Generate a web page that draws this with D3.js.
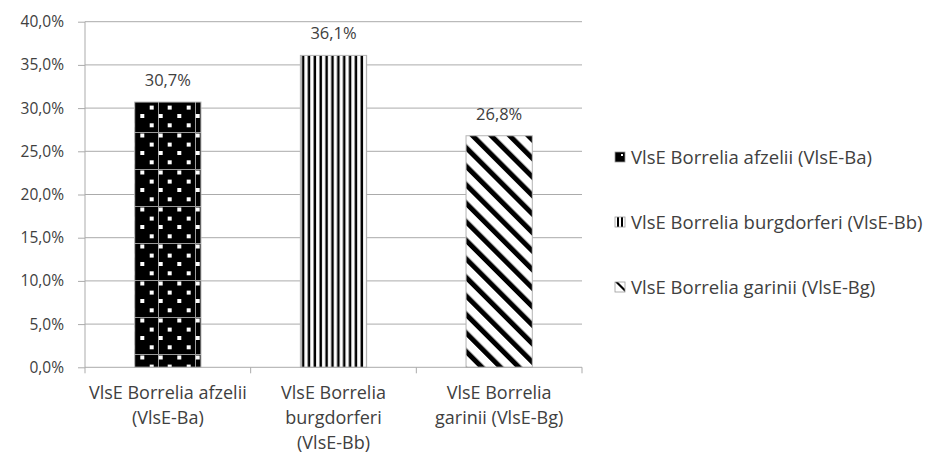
<!DOCTYPE html>
<html>
<head>
<meta charset="utf-8">
<script src="https://cdn.jsdelivr.net/npm/d3@7"></script>
<style>
  body { margin: 0; background: #fff; }
  svg { display: block; font-family: "Open Sans", sans-serif; }
</style>
</head>
<body>
<svg width="928" height="457"></svg>
<script>
// data
var categories = ["VlsE Borrelia afzelii (VlsE-Ba)", "VlsE Borrelia burgdorferi (VlsE-Bb)", "VlsE Borrelia garinii (VlsE-Bg)"];
var values = [0.307, 0.361, 0.268];
var catLines = [["VlsE Borrelia afzelii", "(VlsE-Ba)"], ["VlsE Borrelia", "burgdorferi", "(VlsE-Bb)"], ["VlsE Borrelia", "garinii (VlsE-Bg)"]];
var yTicks = [0, 0.05, 0.1, 0.15, 0.2, 0.25, 0.3, 0.35, 0.4];
var patternIds = ["dots", "vlines", "diag"];

var textCol = "#404040";
var gridCol = "#ababab";

var locale = d3.formatLocale({decimal: ",", thousands: ".", grouping: [3], currency: ["", "€"]});
var pct = locale.format(".1%");

var svg = d3.select("svg");
var plotLeft = 85, plotRight = 582, plotTop = 21.7, plotBottom = 367.3;

var y = d3.scaleLinear().domain([0, 0.4]).range([plotBottom, plotTop]);
var x = d3.scaleBand().domain(categories).range([plotLeft, plotRight]).paddingInner(0.6).paddingOuter(0.3);
var step = x.step();

// patterns
var defs = svg.append("defs");

var pd = defs.append("pattern").attr("id", "dots").attr("patternUnits", "userSpaceOnUse")
    .attr("x", 10).attr("y", 21).attr("width", 37).attr("height", 37);
pd.append("rect").attr("width", 37).attr("height", 37).attr("fill", "#000");
pd.append("rect").attr("width", 37).attr("height", 1).attr("fill", "#9a9a9a");
pd.append("rect").attr("width", 1).attr("height", 37).attr("fill", "#9a9a9a");
var dotPos = [[2.7, 3.5], [21.3, 3.5], [11.7, 12.6], [30.7, 12.6], [2.7, 21], [21.3, 21], [11.7, 30.3], [30.7, 30.3]];
pd.selectAll("rect.d").data(dotPos).enter().append("rect").attr("class", "d")
    .attr("x", function(d){ return d[0]-2; }).attr("y", function(d){ return d[1]-2; })
    .attr("width", 4).attr("height", 4).attr("fill", "#fff");

var pv = defs.append("pattern").attr("id", "vlines").attr("patternUnits", "userSpaceOnUse")
    .attr("x", 1).attr("width", 5.87).attr("height", 10);
pv.append("rect").attr("width", 5.87).attr("height", 10).attr("fill", "#fff");
pv.append("rect").attr("x", 1.5).attr("width", 2.5).attr("height", 10).attr("fill", "#000");

var pg = defs.append("pattern").attr("id", "diag").attr("patternUnits", "userSpaceOnUse")
    .attr("width", 13.1).attr("height", 13.1).attr("patternTransform", "rotate(-45)");
pg.append("rect").attr("width", 13.1).attr("height", 13.1).attr("fill", "#fff");
pg.append("rect").attr("x", 0).attr("width", 5).attr("height", 13.1).attr("fill", "#000");

// legend patterns (small)
var ld = defs.append("pattern").attr("id", "ldots").attr("patternUnits", "objectBoundingBox")
    .attr("width", 1).attr("height", 1);
ld.append("rect").attr("width", 10).attr("height", 10).attr("fill", "#000");
ld.append("rect").attr("x", 6).attr("y", 2).attr("width", 2).attr("height", 2).attr("fill", "#fff");
var lv = defs.append("pattern").attr("id", "lvlines").attr("patternUnits", "objectBoundingBox")
    .attr("width", 1).attr("height", 1);
lv.append("rect").attr("width", 10).attr("height", 10).attr("fill", "#fff");
lv.append("rect").attr("x", 2).attr("width", 2).attr("height", 10).attr("fill", "#000");
lv.append("rect").attr("x", 6).attr("width", 2).attr("height", 10).attr("fill", "#000");
var lg = defs.append("pattern").attr("id", "ldiag").attr("patternUnits", "objectBoundingBox")
    .attr("width", 1).attr("height", 1);
lg.append("rect").attr("width", 10).attr("height", 10).attr("fill", "#fff");
lg.append("path").attr("d", "M0,0 L3,0 L10,7 L10,10 Z").attr("fill", "#000");
var legendIds = ["ldots", "lvlines", "ldiag"];

// gridlines
svg.append("g").selectAll("line").data(yTicks.slice(1)).enter().append("line")
    .attr("x1", plotLeft).attr("x2", plotRight)
    .attr("y1", function(d){ return y(d); }).attr("y2", function(d){ return y(d); })
    .attr("stroke", gridCol).attr("stroke-width", 1);

// bars
svg.append("g").selectAll("rect").data(values).enter().append("rect")
    .attr("x", function(d, i){ return x(categories[i]); })
    .attr("y", function(d){ return y(d); })
    .attr("width", x.bandwidth())
    .attr("height", function(d){ return y(0) - y(d); })
    .attr("fill", function(d, i){ return "url(#" + patternIds[i] + ")"; })
    .attr("stroke", "#b5b5b5").attr("stroke-width", 1);

// value labels
svg.append("g").selectAll("text").data(values).enter().append("text")
    .attr("x", function(d, i){ return x(categories[i]) + x.bandwidth()/2; })
    .attr("y", function(d){ return y(d) - 16; })
    .attr("text-anchor", "middle").attr("font-size", 16.5).attr("fill", textCol)
    .text(function(d){ return pct(d); });

// y axis
var yAxis = d3.axisLeft(y).tickValues(yTicks).tickSize(7).tickPadding(14).tickFormat(pct);
var gy = svg.append("g").attr("transform", "translate(" + plotLeft + ",0)").call(yAxis);
gy.select(".domain").attr("stroke", gridCol).attr("d", "M0," + plotTop + "V" + plotBottom);
gy.selectAll(".tick line").attr("stroke", gridCol);
gy.selectAll(".tick text").attr("font-size", 15.5).attr("fill", textCol).attr("font-family", "Open Sans");

// x axis
var gx = svg.append("g").attr("transform", "translate(0," + plotBottom + ")");
gx.append("line").attr("x1", plotLeft).attr("x2", plotRight).attr("stroke", gridCol);
gx.selectAll("line.t").data(d3.range(categories.length + 1)).enter().append("line").attr("class", "t")
    .attr("x1", function(i){ return plotLeft + i*step; }).attr("x2", function(i){ return plotLeft + i*step; })
    .attr("y1", 0).attr("y2", 6).attr("stroke", gridCol);
var cl = gx.selectAll("text.c").data(catLines).enter().append("text").attr("class", "c")
    .attr("text-anchor", "middle").attr("font-size", 18).attr("fill", textCol)
    .attr("transform", function(d, i){ return "translate(" + (x(categories[i]) + x.bandwidth()/2) + ",32)"; });
cl.selectAll("tspan").data(function(d){ return d; }).enter().append("tspan")
    .attr("x", 0).attr("dy", function(d, j){ return j === 0 ? 0 : 25; })
    .text(function(d){ return d; });

// legend
var legY = [157, 222, 287];
var lgItems = svg.append("g").selectAll("g").data(categories).enter().append("g")
    .attr("transform", function(d, i){ return "translate(615," + legY[i] + ")"; });
lgItems.append("rect").attr("x", 0).attr("y", -5).attr("width", 10).attr("height", 10)
    .attr("fill", function(d, i){ return "url(#" + legendIds[i] + ")"; })
    .attr("stroke", "#9a9a9a").attr("stroke-width", 0.8);
lgItems.append("text").attr("x", 16).attr("y", 6.5).attr("font-size", 18.5).attr("fill", textCol)
    .text(function(d){ return d; });
</script>
</body>
</html>
